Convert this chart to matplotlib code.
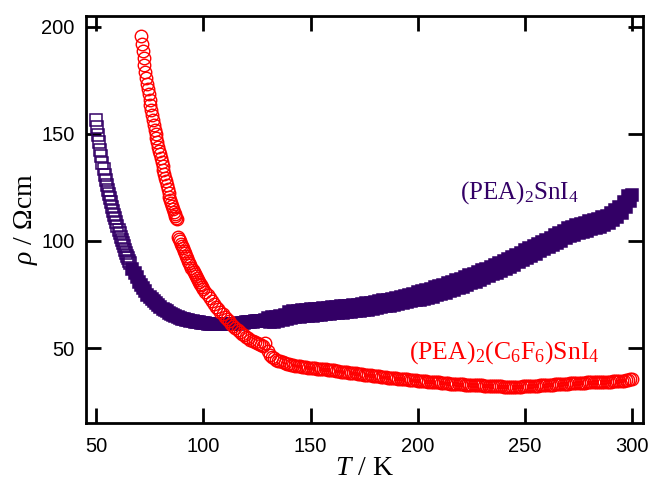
import matplotlib
matplotlib.use('Agg')
import matplotlib.pyplot as plt
import numpy as np

plt.rcParams['mathtext.fontset'] = 'custom'
plt.rcParams['mathtext.rm'] = 'Liberation Serif'
plt.rcParams['mathtext.it'] = 'Liberation Serif:italic'

# (PEA)2SnI4, purple squares
purple_T_low = [50.0, 50.5, 51.0, 51.5, 52.0, 52.5, 53.0, 53.5, 54.0, 54.5,
                55.0, 55.5, 56.0, 56.5, 57.0, 57.5, 58.0, 58.5, 59.0, 59.5,
                60.0, 60.5, 61.0, 61.5, 62.0, 62.5, 63.0, 63.5, 64.0, 64.5,
                65.0, 65.5, 66.0]
purple_rho_low = [156.5, 153, 149.5, 146, 142.5, 139.5, 136.5, 133.5, 131, 128.5,
                  126, 124, 122, 120, 118, 116, 114, 112.2, 110.5, 108.7,
                  107, 105.2, 103.5, 102, 100.5, 99, 97.5, 96, 94.5, 93.2,
                  92, 90.7, 89.5]
# one value per kelvin, 67 .. 300 K (the band above 130 K is scattered)
purple_T_high = np.arange(67, 301)
purple_rho_high = [
    87, 85, 83,
    81, 79.5, 78, 76.5, 75, 74, 73, 72, 71, 70,
    69.2, 68.5, 67.8, 67.2, 66.6, 66, 65.5, 65, 64.6, 64.2,
    63.8, 63.5, 63.2, 63, 62.7, 62.5, 62.3, 62.1, 62, 61.8,
    61.7, 61.6, 61.5, 61.4, 61.3, 61.3, 61.2, 61.2, 61.1, 61.1,
    61.1, 61.1, 61.2, 61.2, 61.3, 61.4, 61.5, 61.6, 61.7, 61.8,
    62, 62.1, 62.2, 62.3, 62.5, 62.6, 62.7, 62.8, 62.9, 63,
    64.2, 62.1, 64.4, 62.3, 64.7, 62.6, 65.1, 63.0, 65.5, 63.6,
    66.7, 64.0, 67.2, 64.4, 67.5, 64.6, 67.7, 64.8, 67.9, 65.0,
    68.1, 65.2, 68.3, 65.4, 68.5, 65.6, 68.7, 65.8, 68.9, 66.0,
    69.1, 66.2, 69.3, 66.4, 69.5, 66.6, 69.7, 66.8, 69.9, 67.0,
    70.1, 67.2, 70.3, 67.5, 70.6, 67.7, 70.9, 68.0, 71.2, 68.3,
    71.5, 68.7, 71.9, 69.1, 72.3, 69.5, 72.7, 69.9, 73.1, 70.3,
    73.5, 70.7, 73.9, 71.1, 74.3, 71.5, 74.7, 71.9, 75.1, 72.3,
    76.0, 72.3, 76.6, 72.9, 77.2, 73.5, 77.8, 74.1, 78.4, 74.7,
    79.0, 75.3, 79.6, 75.9, 80.3, 76.6, 81.0, 77.3, 81.7, 78.0,
    82.4, 78.7, 83.1, 79.5, 83.9, 80.3, 84.7, 81.1, 85.5, 81.9,
    86.3, 82.7, 87.1, 83.5, 87.9, 84.4, 88.8, 85.2, 89.7, 86.1,
    90.6, 87.1, 91.5, 88.0, 92.5, 89.0, 93.5, 90.0, 94.6, 91.1,
    95.6, 92.1, 96.6, 93.1, 97.6, 94.1, 98.6, 95.1, 99.6, 96.1,
    100.6, 97.1, 101.6, 98.1, 102.6, 99.1, 103.6, 100.2, 104.8, 101.4,
    106.0, 102.4, 106.7, 103.0, 107.3, 103.6, 107.9, 104.2, 108.5, 104.8,
    109.1, 105.4, 109.7, 106.0, 110.3, 106.6, 111.0, 107.4, 111.8, 108.4,
    113.0, 109.6, 114.3, 111.1, 116.0, 113.0, 118.3, 115.8, 121.2, 118.5,
    121.5]

# (PEA)2(C6F6)SnI4, red circles
red_T_low = [71.0, 71.4, 71.8, 72.2, 72.6, 73.0, 73.4, 73.8, 74.2, 74.6,
             75.0, 75.4, 75.8, 76.2, 76.6, 77.0, 77.4, 77.8, 78.2, 78.6,
             79.0, 79.4, 79.8, 80.2, 80.6, 81.0, 81.4, 81.8, 82.2, 82.6,
             83.0, 83.4, 83.8, 84.2, 84.6, 85.0, 85.4, 85.8, 86.2, 86.6,
             87.0, 87.4, 87.8,
             88.4, 88.8, 89.2, 89.6, 90.0, 90.5, 91.0, 91.5, 92.0, 92.5,
             93.0, 93.5, 94.0, 94.5, 95.0, 95.5, 96.0, 96.5, 97.0, 97.5,
             98.0, 98.5, 99.0, 99.5, 100.0]
red_rho_low = [195.7, 192, 188.6, 185.4, 182.2, 179, 176.2, 173.4, 170.8, 168.4,
               166, 163.6, 161.2, 158.8, 156.4, 154, 152, 150, 148, 146,
               144, 142.2, 140.4, 138.6, 136.8, 135, 133.2, 131.4, 129.6, 127.8,
               126, 124.2, 122.4, 120.7, 119.1, 117.5, 116.1, 114.7, 113.5, 112.5,
               111.5, 110.9, 110.3,
               101.8, 100.8, 99.8, 98.8, 97.8, 96.6, 95.4, 94.2, 93, 91.9,
               90.8, 89.7, 88.6, 87.6, 86.6, 85.6, 84.6, 83.7, 82.8, 81.9,
               81, 80.1, 79.3, 78.5, 77.7]
red_T_high = np.arange(101, 301)
red_rho_high = [
    76.2, 74.8, 73.4, 72.0, 70.7, 69.4, 68.2, 67.0, 65.8,
    64.6, 63.5, 62.5, 61.5, 60.5, 59.5, 58.6, 57.7, 56.8, 56.0,
    55.3, 54.6, 54.0, 53.4, 52.8, 52.3, 51.8, 51.4, 51.2, 52.4,
    48.5, 47.0, 46.0, 45.3, 44.7, 44.2, 43.8, 43.4, 43.1, 42.8,
    42.5, 42.3, 42.1, 41.9, 41.7, 41.5, 41.4, 41.2, 41.1, 40.9,
    40.8, 40.7, 40.6, 40.5, 40.4, 40.3, 40.2, 40.1, 40.0, 39.9,
    39.7, 39.6, 39.4, 39.3, 39.1, 39.0, 38.9, 38.7, 38.6, 38.4,
    38.3, 38.2, 38.1, 37.9, 37.8, 37.7, 37.6, 37.4, 37.3, 37.2,
    37.0, 36.9, 36.8, 36.7, 36.6, 36.5, 36.3, 36.2, 36.1, 36.0,
    35.9, 35.8, 35.7, 35.6, 35.5, 35.4, 35.3, 35.2, 35.1, 35.0,
    34.9, 34.8, 34.7, 34.6, 34.5, 34.4, 34.3, 34.2, 34.1, 34.0,
    34.0, 33.9, 33.8, 33.7, 33.6, 33.5, 33.4, 33.3, 33.3, 33.2,
    33.2, 33.1, 33.0, 33.0, 32.9, 32.9, 32.8, 32.7, 32.7, 32.6,
    32.6, 32.5, 32.5, 32.4, 32.4, 32.3, 32.3, 32.2, 32.2, 32.2,
    32.1, 32.1, 32.1, 32.1, 32.1, 32.1, 32.1, 32.1, 32.1, 32.2,
    32.2, 32.2, 32.3, 32.3, 32.4, 32.5, 32.5, 32.6, 32.7, 32.8,
    32.8, 32.9, 33.0, 33.0, 33.1, 33.1, 33.2, 33.3, 33.4, 33.4,
    33.5, 33.6, 33.6, 33.7, 33.7, 33.8, 33.8, 33.9, 33.9, 34.0,
    34.0, 34.0, 34.1, 34.1, 34.2, 34.2, 34.2, 34.3, 34.3, 34.4,
    34.4, 34.5, 34.5, 34.6, 34.7, 34.8, 34.9, 35.0, 35.2, 35.4,
    35.6]

red_T = np.concatenate([red_T_low, red_T_high])
red_rho = np.concatenate([red_rho_low, red_rho_high])

PURPLE = '#330066'
RED = '#ff0000'

fig = plt.figure(figsize=(6.51, 4.82), dpi=100)
ax = fig.add_axes([0.132, 0.122, 0.855, 0.845])

# sparse low-T points: open squares; dense band: squares overlap into a solid band
ax.plot(purple_T_low, purple_rho_low, linestyle='none', marker='s', markersize=9,
        markerfacecolor='none', markeredgecolor=PURPLE, markeredgewidth=1.1)
ax.plot(purple_T_high, purple_rho_high, linestyle='none', marker='s', markersize=9,
        markerfacecolor=PURPLE, markeredgecolor=PURPLE, markeredgewidth=1.1)
ax.plot(red_T, red_rho, linestyle='none', marker='o', markersize=9,
        markerfacecolor='none', markeredgecolor=RED, markeredgewidth=1.0)

ax.set_xlim(45.3, 304.8)
ax.set_ylim(15, 205)
ax.set_xticks([50, 100, 150, 200, 250, 300])
ax.set_yticks([50, 100, 150, 200])

for s in ax.spines.values():
    s.set_linewidth(2.0)
ax.tick_params(direction='in', length=10.5, width=2.0, top=True, right=True,
               labelsize=14.5)
ax.tick_params(axis='x', pad=10)
ax.tick_params(axis='y', pad=8)
for lab in ax.get_xticklabels() + ax.get_yticklabels():
    lab.set_fontfamily('Liberation Sans')

ax.set_xlabel(r'$T$ / K', fontsize=20, fontfamily='Liberation Serif', labelpad=0)
ax.set_ylabel(r'$\rho$ / $\Omega$cm', fontsize=20, fontfamily='Liberation Serif', labelpad=1)

ax.text(219.5, 122.4, r'(PEA)$_2$SnI$_4$', color=PURPLE, fontsize=18,
        fontfamily='Liberation Serif', va='center', ha='left')
ax.text(196.0, 47.8, r'(PEA)$_2$(C$_6$F$_6$)SnI$_4$', color=RED, fontsize=18.5,
        fontfamily='Liberation Serif', va='center', ha='left')

fig.savefig('out.png', dpi=100)
